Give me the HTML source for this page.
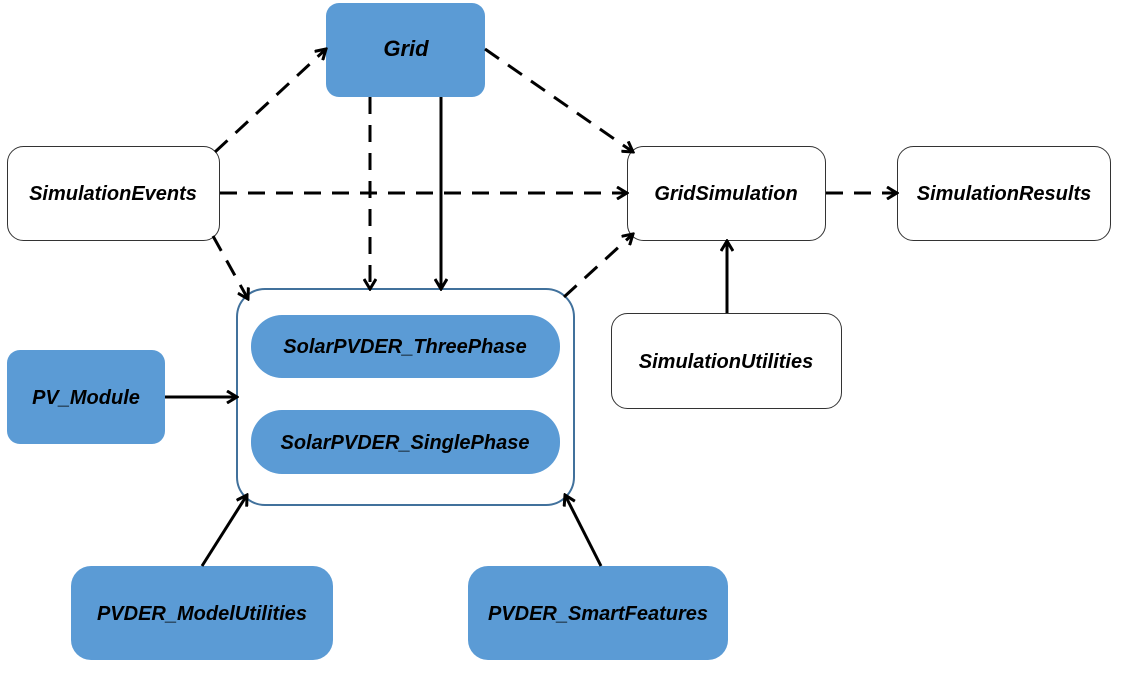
<!DOCTYPE html>
<html><head><meta charset="utf-8"><style>
html,body{margin:0;padding:0;background:#fff;}
svg text{font-family:"Liberation Sans",sans-serif;font-weight:bold;font-style:italic;font-size:20px;fill:#000;}
</style></head><body>
<svg width="1122" height="668" viewBox="0 0 1122 668" xmlns="http://www.w3.org/2000/svg">
<defs>
<marker id="a" viewBox="0 0 14 14" refX="12" refY="7" markerWidth="14" markerHeight="14" markerUnits="userSpaceOnUse" orient="auto">
<path d="M2,1 L12,7 L2,13" fill="none" stroke="#000" stroke-width="3"/>
</marker>
</defs>
<g fill="#5b9bd5">
<rect x="326" y="3" width="159" height="94" rx="13"/>
<rect x="7" y="350" width="158" height="94" rx="13"/>
<rect x="71" y="566" width="262" height="94" rx="20"/>
<rect x="468" y="566" width="260" height="94" rx="20"/>
</g>
<g fill="#fff" stroke="#333" stroke-width="1">
<rect x="7.5" y="146.5" width="212" height="94" rx="16"/>
<rect x="627.5" y="146.5" width="198" height="94" rx="16"/>
<rect x="897.5" y="146.5" width="213" height="94" rx="16"/>
<rect x="611.5" y="313.5" width="230" height="95" rx="16"/>
</g>
<rect x="237" y="289" width="337" height="216" rx="28" fill="#fff" stroke="#41719c" stroke-width="2"/>
<rect x="251" y="315" width="309" height="63" rx="31" fill="#5b9bd5"/>
<rect x="251" y="410" width="309" height="64" rx="31" fill="#5b9bd5"/>
<g stroke="#000" stroke-width="3" fill="none" marker-end="url(#a)">
<g stroke-dasharray="17 11">
<line x1="215" y1="152" x2="326" y2="49"/>
<line x1="485" y1="49" x2="633" y2="152"/>
<line x1="220" y1="193" x2="627" y2="193"/>
<line x1="213" y1="236" x2="248" y2="299"/>
<line x1="370" y1="97" x2="370" y2="289"/>
<line x1="564" y1="297" x2="633" y2="234"/>
<line x1="826" y1="193" x2="897" y2="193"/>
</g>
<line x1="441" y1="97" x2="441" y2="289"/>
<line x1="727" y1="313" x2="727" y2="241"/>
<line x1="165" y1="397" x2="237" y2="397"/>
<line x1="202" y1="566" x2="247" y2="495"/>
<line x1="601" y1="566" x2="565" y2="495"/>
</g>
<g text-anchor="middle">
<text x="406" y="56" style="font-size:22px">Grid</text>
<text x="113" y="200">SimulationEvents</text>
<text x="726" y="200">GridSimulation</text>
<text x="1004" y="200">SimulationResults</text>
<text x="726" y="368">SimulationUtilities</text>
<text x="405" y="353">SolarPVDER_ThreePhase</text>
<text x="405" y="449">SolarPVDER_SinglePhase</text>
<text x="86" y="404">PV_Module</text>
<text x="202" y="620">PVDER_ModelUtilities</text>
<text x="598" y="620">PVDER_SmartFeatures</text>
</g>
</svg>
</body></html>
